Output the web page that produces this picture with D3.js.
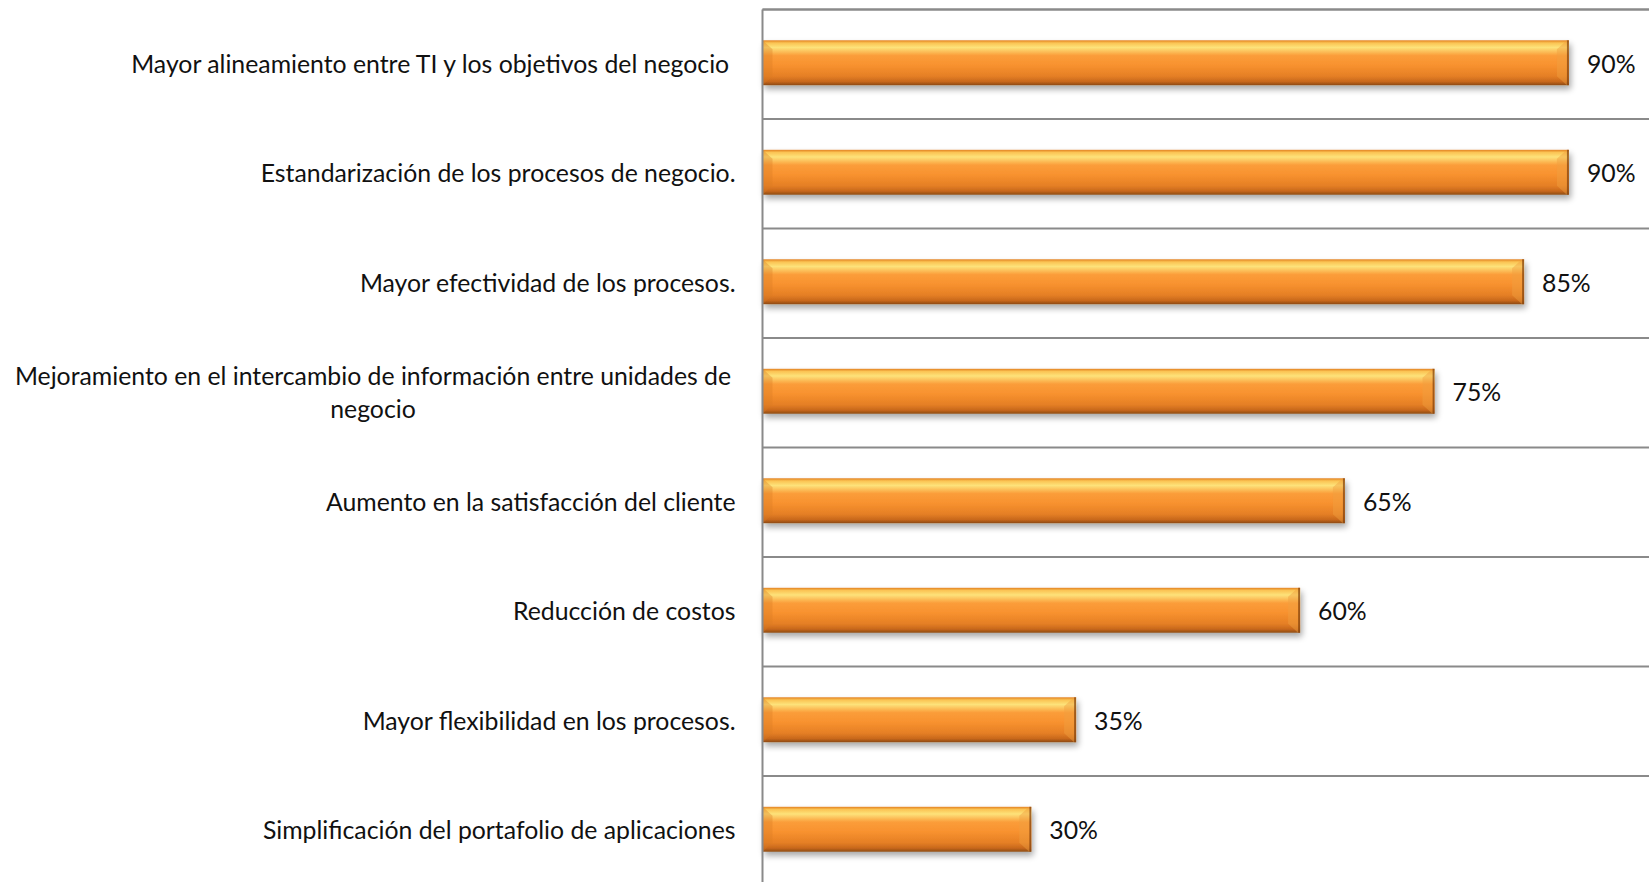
<!DOCTYPE html>
<html>
<head>
<meta charset="utf-8">
<script src="https://cdn.jsdelivr.net/npm/d3@7"></script>
<style>
  body { margin: 0; background: #fff; overflow: hidden; }
  svg { display: block; }
  .etiqueta { font-family: Lato, 'Open Sans', sans-serif; font-size: 24.8px; fill: #111; white-space: pre; }
</style>
</head>
<body>
<div id="graf"></div>
<script>
// datos
categorias = [
  'Mayor alineamiento entre TI y los objetivos del negocio ',
  'Estandarización de los procesos de negocio.',
  'Mayor efectividad de los procesos.',
  'Mejoramiento en el intercambio de información entre unidades de negocio',
  'Aumento en la satisfacción del cliente',
  'Reducción de costos',
  'Mayor flexibilidad en los procesos.',
  'Simplificación del portafolio de aplicaciones'
]
valores = [0.90, 0.90, 0.85, 0.75, 0.65, 0.60, 0.35, 0.30]

ancho_total = 1649
alto_total = 882

margins = { top: 9.5, left: 762.5 }
ancho = 896      // 0..100%, se sale un poco por la derecha
alto = 876

svg = d3.select('#graf').append('svg')
        .attr('width', ancho_total)
        .attr('height', alto_total)

defs = svg.append('defs')

grad = defs.append('linearGradient')
           .attr('id', 'naranja')
           .attr('x1', 0).attr('y1', 0).attr('x2', 0).attr('y2', 1)
;[['0%', '#e2801f'], ['6%', '#fbc454'], ['16%', '#fde27a'], ['34%', '#fb9d3a'],
  ['55%', '#f8922f'], ['80%', '#e57f25'], ['92%', '#c8681c'], ['100%', '#8d4a12']]
  .forEach(s => grad.append('stop').attr('offset', s[0]).attr('stop-color', s[1]))

sombra = defs.append('filter').attr('id', 'sombra')
             .attr('x', '-5%').attr('y', '-30%').attr('width', '110%').attr('height', '180%')
sombra.append('feGaussianBlur').attr('in', 'SourceAlpha').attr('stdDeviation', 3)
sombra.append('feOffset').attr('dx', 2).attr('dy', 4).attr('result', 'b')
sombra.append('feComponentTransfer').append('feFuncA').attr('type', 'linear').attr('slope', 0.35)
m = sombra.append('feMerge')
m.append('feMergeNode')
m.append('feMergeNode').attr('in', 'SourceGraphic')

g = svg.append('g')
       .attr('transform', `translate(${margins.left}, ${margins.top})`)

x = d3.scaleLinear().domain([0, 1]).range([0, ancho])
y = d3.scaleBand().domain(categorias).range([0, alto])

// lineas de division entre categorias
g.selectAll('line.grid')
  .data(categorias)
  .enter().append('line')
    .attr('class', 'grid')
    .attr('x1', 0).attr('x2', ancho)
    .attr('y1', d => y(d)).attr('y2', d => y(d))
    .attr('stroke', '#8a8a8a').attr('stroke-width', 2)

// barras
altoBarra = y.bandwidth() * 0.41
barras = g.selectAll('g.barra')
  .data(categorias)
  .enter().append('g')
    .attr('class', 'barra')
    .attr('transform', d => `translate(0, ${y(d) + y.bandwidth() / 2 - altoBarra / 2 - 1.5})`)

barras.append('rect')
  .attr('x', 0)
  .attr('y', 0)
  .attr('width', (d, i) => x(valores[i]))
  .attr('height', altoBarra)
  .attr('fill', 'url(#naranja)')
  .attr('filter', 'url(#sombra)')

// borde derecho oscuro y bisel
barras.append('rect')
  .attr('x', (d, i) => x(valores[i]) - 2)
  .attr('y', 0)
  .attr('width', 2)
  .attr('height', altoBarra)
  .attr('fill', '#8d4a12')
  .attr('opacity', 0.8)
barras.append('path')
  .attr('d', (d, i) => {
    w = x(valores[i])
    return `M${w - 2},0 L${w - 12},9 L${w - 12},${altoBarra - 9} L${w - 2},${altoBarra} Z`
  })
  .attr('fill', '#f0a040').attr('opacity', 0.45)
barras.append('path')
  .attr('d', `M0,0 L10,9 L10,${altoBarra - 9} L0,${altoBarra} Z`)
  .attr('fill', '#d97a22').attr('opacity', 0.35)

// etiquetas de valor
g.selectAll('text.valor')
  .data(categorias)
  .enter().append('text')
    .attr('class', 'etiqueta valor')
    .attr('x', (d, i) => x(valores[i]) + 18)
    .attr('y', d => y(d) + y.bandwidth() / 2)
    .attr('dy', '0.35em')
    .text((d, i) => d3.format('.0%')(valores[i]))

// eje y: linea y texto de categorias
g.append('line')
  .attr('x1', 0).attr('x2', 0).attr('y1', 0).attr('y2', alto)
  .attr('stroke', '#8a8a8a').attr('stroke-width', 2)
g.append('line')
  .attr('x1', 0).attr('x2', ancho).attr('y1', 0).attr('y2', 0)
  .attr('stroke', '#8a8a8a').attr('stroke-width', 2)

partir = { 'Mejoramiento en el intercambio de información entre unidades de negocio':
           ['Mejoramiento en el intercambio de información entre unidades de', 'negocio'] }

g.selectAll('text.cat')
  .data(categorias)
  .enter().append('text')
    .attr('class', 'etiqueta cat')
    .attr('y', d => y(d) + y.bandwidth() / 2)
    .each(function(d) {
      t = d3.select(this)
      if (partir[d]) {
        lineas = partir[d]
        t.attr('text-anchor', 'middle').attr('x', -389.5)
        lineas.forEach((l, k) => {
          t.append('tspan')
           .attr('x', -389.5)
           .attr('dy', k == 0 ? '-0.3em' : '1.32em')
           .text(l)
        })
      } else {
        t.attr('text-anchor', 'end').attr('x', -27).attr('dy', '0.35em').text(d)
      }
    })
</script>
</body>
</html>
